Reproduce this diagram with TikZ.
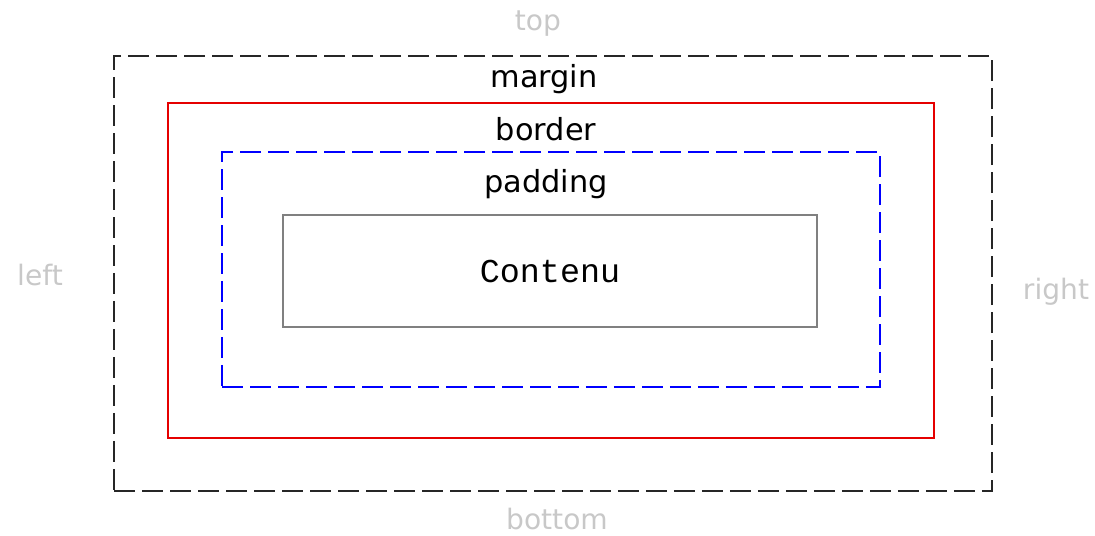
\documentclass[tikz,border=0pt]{standalone}
\usepackage{fontspec}
\setmainfont{DejaVu Sans}
\setmonofont{Liberation Mono}
\definecolor{sidegray}{RGB}{200,200,200}
\definecolor{boxgray}{RGB}{128,128,128}
\begin{document}
\begin{tikzpicture} [
                x=0.02cm, y=-0.02cm,
                box/.style={rectangle,inner sep=0pt,line width=1.3pt},
                marginbox/.style={box,draw=black!85,dash pattern=on 0.42cm off 0.14cm},
                borderbox/.style={box,draw=red!90!black},
                paddingbox/.style={box,draw=blue,dash pattern=on 0.42cm off 0.14cm},
                contentbox/.style={box,draw=boxgray,line width=1pt},
                side/.style={text=sidegray,font=\fontsize{16}{19}\selectfont},
                layer/.style={text=black,font=\fontsize{17.3}{20}\selectfont},
            ]
            \useasboundingbox (0,0) rectangle (1095,535);
            % First we draw the nested boxes
            \node[marginbox,minimum width=17.56cm,minimum height=8.7cm] (margin) at (553,273.5) {};
            \node[borderbox,minimum width=15.32cm,minimum height=6.7cm] (border) at (551,270.5) {};
            \node[paddingbox,minimum width=13.16cm,minimum height=4.7cm] (padding) at (551,269.5) {};
            \node[contentbox,minimum width=10.68cm,minimum height=2.24cm] (content) at (550,271)
                {\fontsize{19}{21}\selectfont\ttfamily Contenu};
            % Then the layer names
            \foreach \pos/\name in {
                    {(544,79)/margin}, {(546,129)/border}, {(546,184)/padding}}
                \node[layer] (\name-label) at \pos {\name};
            % and the side names around
            \foreach \pos/\name in {
                    {(538,24)/top}, {(557,519)/bottom}, {(40,275)/left}, {(1056,292)/right}}
                \node[side] (\name) at \pos {\name};
        \end{tikzpicture}
\end{document}
